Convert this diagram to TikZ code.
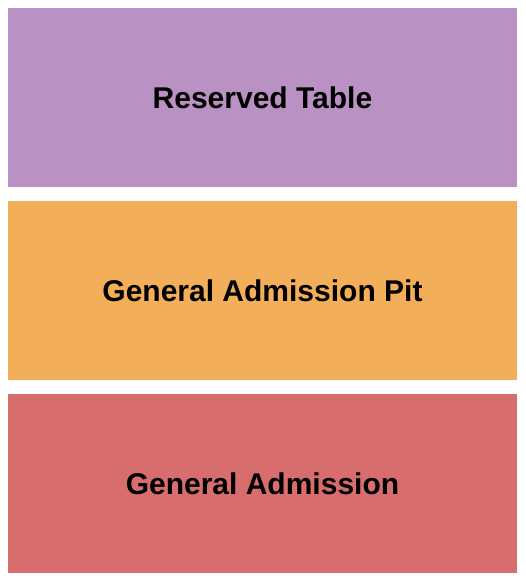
\documentclass[tikz,border=0pt]{standalone}
\usepackage{fontspec}
\setmainfont{Liberation Sans}
\usetikzlibrary{positioning}
\definecolor{tablepurple}{HTML}{B991C2}
\definecolor{pitorange}{HTML}{F3AE5A}
\definecolor{gared}{HTML}{D76D6C}
\tikzset{
  section/.style={
    rectangle,
    draw=none,
    inner sep=0pt,
    outer sep=0pt,
    minimum width=509pt,
    minimum height=179pt,
    text centered,
    font=\fontsize{30}{34}\selectfont\bfseries},
}

\begin{document}
\begin{tikzpicture}
  [node distance=14pt]
  \useasboundingbox (0pt,0pt) rectangle (525pt,580pt);
  \node[section, fill=tablepurple] (Reserved) at (262.5pt,482.5pt) {Reserved Table};
  \node[section, fill=pitorange, below=of Reserved] (Pit) {General Admission Pit};
  \node[section, fill=gared, below=of Pit] (GA) {General Admission};
\end{tikzpicture}
\end{document}
